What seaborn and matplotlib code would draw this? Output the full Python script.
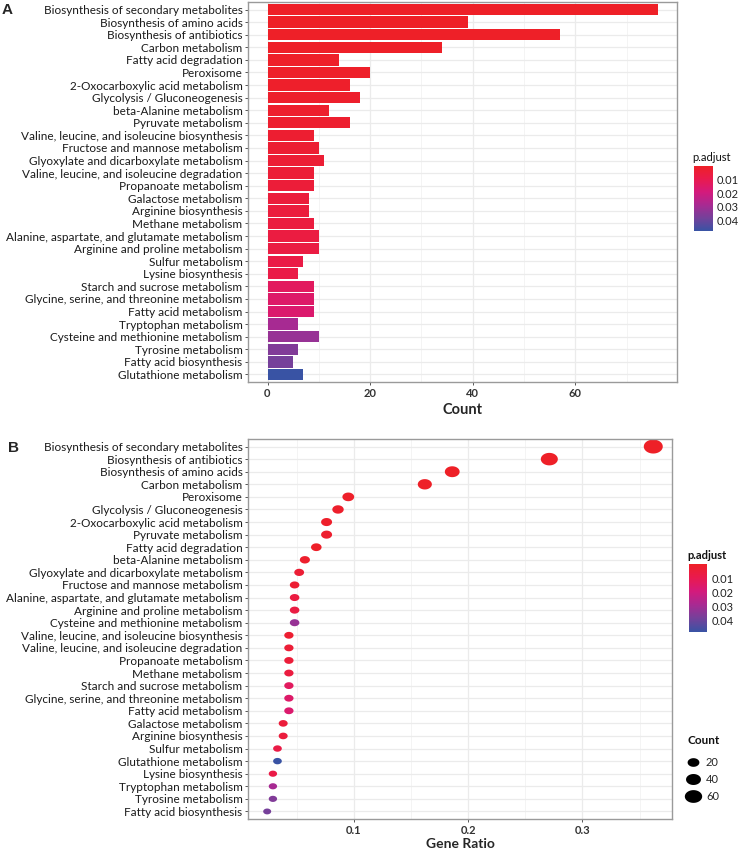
import numpy as np
import pandas as pd
import matplotlib
matplotlib.use("Agg")
import matplotlib.pyplot as plt
import seaborn as sns
from matplotlib.colors import LinearSegmentedColormap, Normalize, to_hex
from matplotlib.path import Path
from matplotlib.markers import MarkerStyle
from matplotlib.lines import Line2D
from matplotlib.cm import ScalarMappable

# ---------------- data ----------------
terms_a = [
    "Biosynthesis of secondary metabolites",
    "Biosynthesis of amino acids",
    "Biosynthesis of antibiotics",
    "Carbon metabolism",
    "Fatty acid degradation",
    "Peroxisome",
    "2-Oxocarboxylic acid metabolism",
    "Glycolysis / Gluconeogenesis",
    "beta-Alanine metabolism",
    "Pyruvate metabolism",
    "Valine, leucine, and isoleucine biosynthesis",
    "Fructose and mannose metabolism",
    "Glyoxylate and dicarboxylate metabolism",
    "Valine, leucine, and isoleucine degradation",
    "Propanoate metabolism",
    "Galactose metabolism",
    "Arginine biosynthesis",
    "Methane metabolism",
    "Alanine, aspartate, and glutamate metabolism",
    "Arginine and proline metabolism",
    "Sulfur metabolism",
    "Lysine biosynthesis",
    "Starch and sucrose metabolism",
    "Glycine, serine, and threonine metabolism",
    "Fatty acid metabolism",
    "Tryptophan metabolism",
    "Cysteine and methionine metabolism",
    "Tyrosine metabolism",
    "Fatty acid biosynthesis",
    "Glutathione metabolism",
]
counts_a = [76, 39, 57, 34, 14, 20, 16, 18, 12, 16, 9, 10, 11, 9, 9,
            8, 8, 9, 10, 10, 7, 6, 9, 9, 9, 6, 10, 6, 5, 7]
padj_a = [0.00001, 0.0001, 0.0002, 0.0003, 0.0005, 0.0008, 0.0010, 0.0012,
          0.0015, 0.0020, 0.0025, 0.0030, 0.0035, 0.0040, 0.0045, 0.0050,
          0.0055, 0.0060, 0.0065, 0.0070, 0.0075, 0.0080, 0.0130, 0.0150,
          0.0160, 0.0290, 0.0320, 0.0360, 0.0380, 0.0480]

terms_b = [
    "Biosynthesis of secondary metabolites",
    "Biosynthesis of antibiotics",
    "Biosynthesis of amino acids",
    "Carbon metabolism",
    "Peroxisome",
    "Glycolysis / Gluconeogenesis",
    "2-Oxocarboxylic acid metabolism",
    "Pyruvate metabolism",
    "Fatty acid degradation",
    "beta-Alanine metabolism",
    "Glyoxylate and dicarboxylate metabolism",
    "Fructose and mannose metabolism",
    "Alanine, aspartate, and glutamate metabolism",
    "Arginine and proline metabolism",
    "Cysteine and methionine metabolism",
    "Valine, leucine, and isoleucine biosynthesis",
    "Valine, leucine, and isoleucine degradation",
    "Propanoate metabolism",
    "Methane metabolism",
    "Starch and sucrose metabolism",
    "Glycine, serine, and threonine metabolism",
    "Fatty acid metabolism",
    "Galactose metabolism",
    "Arginine biosynthesis",
    "Sulfur metabolism",
    "Glutathione metabolism",
    "Lysine biosynthesis",
    "Tryptophan metabolism",
    "Tyrosine metabolism",
    "Fatty acid biosynthesis",
]
ratio_b = [0.362, 0.271, 0.186, 0.162, 0.095, 0.086, 0.076, 0.076, 0.067,
           0.057, 0.052, 0.048, 0.048, 0.048, 0.048, 0.043, 0.043, 0.043,
           0.043, 0.043, 0.043, 0.043, 0.038, 0.038, 0.033, 0.033, 0.029,
           0.029, 0.029, 0.024]

legend_counts = [20, 40, 60]
padj_ticks = [0.01, 0.02, 0.03, 0.04]

# ---------------- style ----------------
sns.set_theme(style="whitegrid")
plt.rcParams['font.family'] = ['Lato', 'DejaVu Sans']

cmap = LinearSegmentedColormap.from_list(
    "padj", [(0.0, "#EE2027"), (0.2, "#E91A4E"), (0.4, "#D41A7C"),
             (0.6, "#A82A92"), (0.8, "#74419A"), (1.0, "#3953A4")])
norm = Normalize(0.0, 0.048)

# elliptical marker (points appear horizontally stretched)
theta = np.linspace(0, 2 * np.pi, 60)
ell_path = Path(np.column_stack([1.36 * np.cos(theta), np.sin(theta)]), closed=True)
ell = MarkerStyle(ell_path)

cmin, cmax = min(counts_a), max(counts_a)


def marker_s(c):
    d_px = 8 + (np.sqrt(c) - np.sqrt(cmin)) / (np.sqrt(cmax) - np.sqrt(cmin)) * 11
    return (d_px * 0.72) ** 2


fig = plt.figure(figsize=(7.38, 8.5), dpi=100)
axA = fig.add_axes([248 / 738, 1 - 382 / 850, (677 - 248) / 738, 380 / 850])
axB = fig.add_axes([248 / 738, 1 - 819 / 850, (672 - 248) / 738, (819 - 439) / 850])

LABEL_COL = "#1a1a1a"


def style(ax):
    ax.set_facecolor("white")
    for s in ax.spines.values():
        s.set_visible(True)
        s.set_color("#9a9a9a")
        s.set_linewidth(1.0)
    ax.grid(True, which="major", color="#EBEBEB", lw=0.9)
    ax.grid(True, which="minor", axis="x", color="#F3F3F3", lw=0.6)
    ax.set_axisbelow(True)
    ax.tick_params(axis="both", which="major", length=2.5, width=0.7,
                   color="#555555", left=True, bottom=True, pad=1.5)
    ax.tick_params(which="minor", length=0)
    ax.tick_params(axis="y", labelsize=8.5, labelcolor=LABEL_COL)
    ax.tick_params(axis="x", labelsize=8, labelcolor="#333333")
    for lab in ax.get_xticklabels():
        lab.set_fontweight("bold")


# ---------------- panel A ----------------
df_a = pd.DataFrame({"term": terms_a, "count": counts_a, "padj": padj_a})
bar_cols = [to_hex(cmap(norm(p))) for p in padj_a]
sns.barplot(data=df_a, x="count", y="term", hue="term", order=terms_a,
            hue_order=terms_a, palette=bar_cols, legend=False, width=0.9,
            saturation=1, linewidth=0, ax=axA)
axA.set_xlim(-3.8, 79.8)
axA.set_ylim(len(terms_a) - 0.4, -0.6)
axA.set_xticks([0, 20, 40, 60])
axA.set_xticks([10, 30, 50, 70], minor=True)
axA.set_xlabel("Count", fontsize=10.5, fontweight="bold", labelpad=3)
axA.set_ylabel("")
style(axA)

# ---------------- panel B ----------------
cnt_lookup = dict(zip(terms_a, counts_a))
p_lookup = dict(zip(terms_a, padj_a))
df_b = pd.DataFrame({"term": terms_b, "ratio": ratio_b})
df_b["count"] = df_b["term"].map(cnt_lookup)
df_b["padj"] = df_b["term"].map(p_lookup)
size_map = {c: marker_s(c) for c in sorted(set(counts_a))}
sns.scatterplot(data=df_b, x="ratio", y="term", hue="padj", hue_norm=norm,
                palette=cmap, size="count", sizes=size_map, marker=ell,
                linewidth=0, legend=False, ax=axB)
axB.set_xlim(0.0072, 0.3784)
axB.set_ylim(len(terms_b) - 0.4, -0.6)
axB.set_xticks([0.1, 0.2, 0.3])
axB.set_xticklabels(["0.1", "0.2", "0.3"])
axB.set_xticks([0.05, 0.15, 0.25, 0.35], minor=True)
axB.set_xlabel("Gene Ratio", fontsize=10, fontweight="bold", labelpad=2)
axB.set_ylabel("")
style(axB)

# ---------------- colorbars ----------------
def add_cbar(rect, title, bold):
    cax = fig.add_axes(rect)
    cb = fig.colorbar(ScalarMappable(norm=norm, cmap=cmap), cax=cax)
    cb.outline.set_visible(False)
    cax.invert_yaxis()
    cb.set_ticks(padj_ticks)
    cb.set_ticklabels([f"{t:.2f}" for t in padj_ticks])
    cax.tick_params(axis="y", direction="in", length=3.5, width=0.6,
                    color="white", left=True, right=True, labelleft=False,
                    labelright=True, labelsize=8, labelcolor="#222222", pad=3)
    x0 = rect[0]
    fig.text(x0 - 0.002, rect[1] + rect[3] + 0.004, title, fontsize=8,
             fontweight="bold" if bold else "normal", ha="left", va="bottom",
             color="#111111")
    return cax


add_cbar([694 / 738, 1 - 231 / 850, 18.5 / 738, 65 / 850], "p.adjust", False)
add_cbar([689 / 738, 1 - 632 / 850, 18 / 738, 68 / 850], "p.adjust", True)

# size legend
fig.text(688 / 738, 1 - 741 / 850, "Count", fontsize=8.5, fontweight="bold",
         ha="left", va="center", color="#111111")
handles = [Line2D([], [], ls="none", marker=ell, markersize=np.sqrt(marker_s(c)),
                  color="black", markeredgewidth=0) for c in legend_counts]
fig.legend(handles, [str(c) for c in legend_counts], loc="upper left",
           bbox_to_anchor=(686 / 738, 1 - 757 / 850), frameon=False,
           fontsize=8, handlelength=1.3, handletextpad=0.5,
           labelspacing=0.55, borderpad=0, borderaxespad=0)

# panel letters
fig.text(2 / 738, 1 - 3 / 850, "A", fontsize=11, fontweight="bold",
         family="Liberation Sans", ha="left", va="top")
fig.text(8 / 738, 1 - 441 / 850, "B", fontsize=11, fontweight="bold",
         family="Liberation Sans", ha="left", va="top")

fig.savefig("out.png", dpi=100, facecolor="white")
